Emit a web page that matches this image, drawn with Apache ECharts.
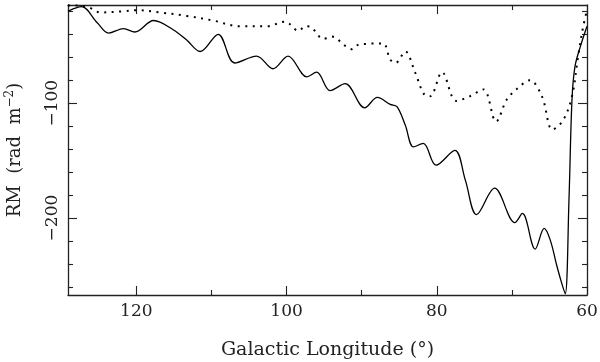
<!DOCTYPE html>
<html>
<head>
<meta charset="utf-8">
<script src="https://cdn.jsdelivr.net/npm/echarts@6/dist/echarts.min.js"></script>
<style>
  html, body { margin: 0; padding: 0; background: #fff; }
  #chart { width: 600px; height: 362px; }
</style>
</head>
<body>
<div id="chart"></div>
<script>
// solid curve
const solidLon = [129.1, 127.3, 125.2, 123.7, 121.7, 120.2, 117.7, 115.1, 113.3, 111.5, 109.1, 106.9, 104.0, 101.8, 99.8, 97.3, 96.0, 94.2, 92.2, 89.6, 87.9, 86.2, 85.3, 84.2, 83.1, 81.8, 80.1, 77.6, 76.2, 74.7, 72.3, 69.6, 68.6, 66.9, 65.7, 64.9, 64.0, 63.4, 62.9, 62.4, 62.0, 61.6, 60.9, 60.0]
const solidRM = [-20, -16, -30, -39, -35, -38, -28, -36, -45, -55, -40, -65, -59, -70, -59, -77, -73, -89, -83, -104, -95, -101, -103, -119, -138, -135, -154, -141, -167, -197, -174, -204, -196, -227, -209, -219, -242, -256, -266, -184, -97, -68, -51, -33]

// dotted curve
const dottedLon = [129.1, 127.9, 126.2, 124.8, 121.7, 120.0, 116.8, 113.3, 109.8, 106.2, 102.6, 100.2, 98.4, 97.5, 96.7, 95.1, 94.0, 92.2, 91.3, 90.4, 87.2, 86.2, 85.5, 84.2, 82.9, 81.6, 80.9, 79.3, 77.4, 75.6, 73.8, 72.1, 70.7, 69.4, 67.6, 66.0, 64.6, 63.2, 62.0, 61.2, 60.5, 60.0]
const dottedRM = [-15, -15, -17, -21, -20, -19, -21, -24, -28, -33, -33, -29, -37, -33, -34, -44, -42, -50, -53, -49, -48, -62, -65, -55, -73, -93, -94, -73, -98, -94, -88, -116, -97, -88, -80, -94, -123, -115, -94, -60, -33, -19]

// ticks
const xMajor = [120, 100, 80, 60]
const xMinor = [110, 90, 70]
const yMajor = [-200, -100]
const yMinor = [-260, -240, -220, -180, -160, -140, -120, -80, -60, -40, -20]

const X_MIN = 60, X_MAX = 129.1
const Y_MIN = -267, Y_MAX = -14.5
const font = 'DejaVu Serif'
const ink = '#222'

const pair = (a, b) => a.map((v, i) => [v, b[i]])

// x轴 (主刻度 / 次刻度, 上下各一条)
function xAx(pos, ticks, len, line, label, name) {
    return {
        type: 'value', position: pos, min: X_MIN, max: X_MAX, inverse: true,
        splitLine: { show: false },
        axisLine: { show: line, lineStyle: { color: ink, width: 1.3 } },
        axisTick: { show: true, inside: true, length: len, customValues: ticks, lineStyle: { color: ink, width: 1.1 } },
        axisLabel: label ? { show: true, customValues: ticks, margin: 8, color: ink, fontFamily: font, fontSize: 17 } : { show: false },
        name: name || '', nameLocation: 'middle', nameGap: 46,
        nameTextStyle: { color: ink, fontFamily: font, fontSize: 19 }
    }
}

// y轴
function yAx(pos, ticks, len, line, label, name) {
    return {
        type: 'value', position: pos, min: Y_MIN, max: Y_MAX,
        splitLine: { show: false },
        axisLine: { show: line, lineStyle: { color: ink, width: 1.3 } },
        axisTick: { show: true, inside: true, length: len, customValues: ticks, lineStyle: { color: ink, width: 1.1 } },
        axisLabel: label ? {
            show: true, customValues: ticks, rotate: 90, margin: 7, color: ink, fontFamily: font, fontSize: 17,
            formatter: v => String(v).replace('-', '\u2212')
        } : { show: false },
        name: name || '', nameLocation: 'middle', nameGap: 42, nameRotate: 90,
        nameTextStyle: {
            color: ink, fontFamily: font, fontSize: 18,
            rich: { s: { color: ink, fontFamily: font, fontSize: 12, verticalAlign: 'top', padding: [0, 0, 10, 0] } }
        }
    }
}

const chart = echarts.init(document.getElementById('chart'))
chart.setOption({
    animation: false,
    grid: { left: 68, right: 13, top: 5, bottom: 67, outerBoundsMode: 'none', containLabel: false },
    xAxis: [
        xAx('bottom', xMajor, 9, true, true, 'Galactic Longitude (\u00b0)'),
        xAx('bottom', xMinor, 5, false, false),
        xAx('top', xMajor, 9, true, false),
        xAx('top', xMinor, 5, false, false)
    ],
    yAxis: [
        yAx('left', yMajor, 9, true, true, 'RM  (rad  m{s|\u22122})'),
        yAx('left', yMinor, 5, false, false),
        yAx('right', yMajor, 9, true, false),
        yAx('right', yMinor, 5, false, false)
    ],
    series: [
        {
            type: 'line', xAxisIndex: 0, yAxisIndex: 0,
            data: pair(solidLon, solidRM),
            smooth: 0.35, showSymbol: false, clip: true,
            lineStyle: { color: '#000', width: 1.3 }
        },
        {
            type: 'line', xAxisIndex: 0, yAxisIndex: 0,
            data: pair(dottedLon, dottedRM),
            smooth: 0.35, showSymbol: false, clip: true,
            lineStyle: { color: '#000', width: 2, type: [2, 5.5], cap: 'butt' }
        }
    ]
})
</script>
</body>
</html>
